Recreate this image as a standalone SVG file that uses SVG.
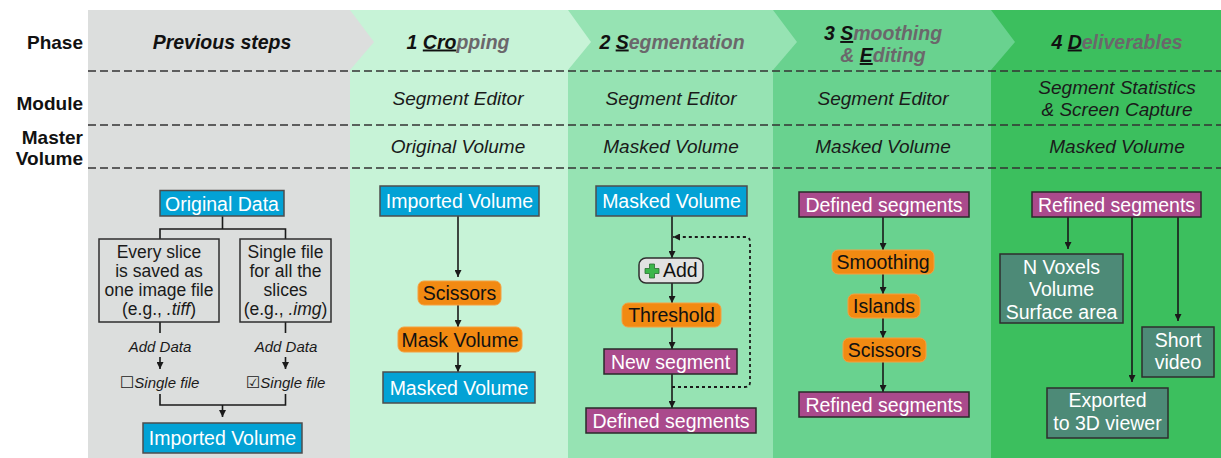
<svg xmlns="http://www.w3.org/2000/svg" width="1221" height="458" viewBox="0 0 1221 458">
  <defs>
    <marker id="arrow" viewBox="0 0 8 8" refX="8" refY="4" markerWidth="7" markerHeight="7" markerUnits="userSpaceOnUse" orient="auto">
      <path d="M0,0 L8,4 L0,8 z" fill="#1a1a1a"/>
    </marker>
    <style>
      text { font-family: "Liberation Sans", Arial, sans-serif; }
      .rowlab { font-size: 19px; font-weight: bold; fill: #111; text-anchor: end; }
      .phase { font-size: 19.5px; font-weight: bold; font-style: italic; fill: #6b676b; text-anchor: middle; }
      .k { fill: #111; }
      .u { fill: #111; text-decoration: underline; }
      .cell { font-size: 19px; font-style: italic; fill: #1a1a1a; text-anchor: middle; }
      .lbl { font-size: 19.5px; text-anchor: middle; }
      .w { fill: #ffffff; }
      .b { fill: #111; }
      .small { font-size: 17.5px; fill: #1a1a1a; text-anchor: middle; }
      .note { font-size: 15px; font-style: italic; fill: #1a1a1a; }
      .box { font-family: "DejaVu Sans", sans-serif; font-style: normal; font-size: 16px; }
      .blue { fill: #03a2d5; stroke: #4d4d4d; stroke-width: 1.5; }
      .orange { fill: #f28a12; stroke: #f5a040; stroke-width: 1; }
      .purple { fill: #aa4a8c; stroke: #2a2a2a; stroke-width: 1.5; }
      .teal { fill: #4d8a77; stroke: #2e2e2e; stroke-width: 1.5; }
      .plain { fill: none; stroke: #2e2e2e; stroke-width: 1.5; }
      .dash { stroke: #333; stroke-width: 1.5; stroke-dasharray: 8 4; fill: none; }
      .wire { fill: none; stroke: #1a1a1a; stroke-width: 1.6; }
      .arr { fill: none; stroke: #1a1a1a; stroke-width: 1.6; marker-end: url(#arrow); }
      .dot { fill: none; stroke: #1a1a1a; stroke-width: 1.8; stroke-dasharray: 3 3; marker-end: url(#arrow); }
    </style>
  </defs>

  <rect width="1221" height="458" fill="#ffffff"/>

  <!-- phase columns -->
  <g id="columns">
    <rect x="88" y="10" width="262" height="448" fill="#dcdedd"/>
    <rect x="350" y="10" width="218" height="448" fill="#c7f3d7"/>
    <rect x="568" y="10" width="205" height="448" fill="#96e3b3"/>
    <rect x="773" y="10" width="218" height="448" fill="#69d28f"/>
    <rect x="991" y="10" width="230" height="448" fill="#3cbf5e"/>
    <!-- chevron tips -->
    <polygon points="350,10 374,42 350,70" fill="#dcdedd"/>
    <polygon points="568,10 591,42 568,70" fill="#c7f3d7"/>
    <polygon points="773,10 797,42 773,70" fill="#96e3b3"/>
    <polygon points="991,10 1015,42 991,70" fill="#69d28f"/>
  </g>

  <!-- row separators -->
  <g id="rows">
    <line class="dash" x1="88" y1="71" x2="1221" y2="71"/>
    <line class="dash" x1="88" y1="125" x2="1221" y2="125"/>
    <line class="dash" x1="88" y1="168" x2="1221" y2="168"/>
  </g>

  <!-- row labels -->
  <g id="row-labels">
    <text class="rowlab" x="83" y="49">Phase</text>
    <text class="rowlab" x="83" y="110">Module</text>
    <text class="rowlab" x="83" y="143.5">Master</text>
    <text class="rowlab" x="83" y="165">Volume</text>
  </g>

  <!-- phase headers -->
  <g id="phase-headers">
    <text class="phase" x="222" y="48.5"><tspan class="k">Previous steps</tspan></text>
    <text class="phase" x="458" y="48.5"><tspan class="k">1 </tspan><tspan class="u">Cro</tspan>pping</text>
    <text class="phase" x="672" y="48.5"><tspan class="k">2 </tspan><tspan class="u">S</tspan>egmentation</text>
    <text class="phase" x="883" y="40"><tspan class="k">3 </tspan><tspan class="u">S</tspan>moothing</text>
    <text class="phase" x="883" y="62">&amp; <tspan class="u">E</tspan>diting</text>
    <text class="phase" x="1117" y="48.5"><tspan class="k">4 </tspan><tspan class="u">D</tspan>eliverables</text>
  </g>

  <!-- module / master volume cells -->
  <g id="cells">
    <text class="cell" x="458" y="104.5">Segment Editor</text>
    <text class="cell" x="671" y="104.5">Segment Editor</text>
    <text class="cell" x="883" y="104.5">Segment Editor</text>
    <text class="cell" x="1117" y="93.5">Segment Statistics</text>
    <text class="cell" x="1117" y="115.5">&amp; Screen Capture</text>
    <text class="cell" x="458" y="153">Original Volume</text>
    <text class="cell" x="671" y="153">Masked Volume</text>
    <text class="cell" x="883" y="153">Masked Volume</text>
    <text class="cell" x="1117" y="153">Masked Volume</text>
  </g>

  <!-- connectors -->
  <g id="connectors">
    <!-- previous steps -->
    <path class="wire" d="M222.5,216 V229 M160,239 V229 H285.5 V239"/>
    <path class="wire" d="M160,322 V333 M285.5,322 V333"/>
    <path class="arr" d="M160,357 V369"/>
    <path class="arr" d="M285.5,357 V369"/>
    <path class="wire" d="M160,394 V405 H285.5 V394"/>
    <path class="arr" d="M222.5,405 V417"/>
    <!-- cropping -->
    <path class="arr" d="M458,216 V277"/>
    <path class="arr" d="M458,305 V327"/>
    <path class="arr" d="M458,352 V372"/>
    <!-- segmentation -->
    <path class="arr" d="M672,216 V258"/>
    <path class="arr" d="M672,283 V303"/>
    <path class="arr" d="M672,327 V349"/>
    <path class="arr" d="M672,374 V408"/>
    <path class="dot" d="M672,387 H745 Q750,387 750,382 V242 Q750,237 745,237 H673"/>
    <!-- smoothing & editing -->
    <path class="arr" d="M883,217 V250"/>
    <path class="arr" d="M883,274 V294"/>
    <path class="arr" d="M883,318 V338"/>
    <path class="arr" d="M883,362 V392"/>
    <!-- deliverables -->
    <path class="arr" d="M1068,217 V249"/>
    <path class="arr" d="M1132,217 V382"/>
    <path class="arr" d="M1178,217 V321"/>
  </g>

  <!-- previous steps nodes -->
  <g id="original-data">
    <rect class="blue" x="160" y="190.5" width="124" height="25.5"/>
    <text class="lbl w" x="222" y="210.5">Original Data</text>
  </g>
  <g id="every-slice">
    <rect class="plain" x="99" y="239" width="120" height="83"/>
    <text class="small" x="159" y="257.5">Every slice</text>
    <text class="small" x="159" y="276.5">is saved as</text>
    <text class="small" x="159" y="295.5">one image file</text>
    <text class="small" x="159" y="314.5">(e.g., <tspan font-style="italic">.tiff</tspan>)</text>
  </g>
  <g id="single-file">
    <rect class="plain" x="240" y="239" width="91" height="83"/>
    <text class="small" x="285.5" y="257.5">Single file</text>
    <text class="small" x="285.5" y="276.5">for all the</text>
    <text class="small" x="285.5" y="295.5">slices</text>
    <text class="small" x="285.5" y="314.5">(e.g., <tspan font-style="italic">.img</tspan>)</text>
  </g>
  <g id="add-data-left">
    <text class="note" x="160" y="351.5" text-anchor="middle">Add Data</text>
    <text class="note" x="120" y="388"><tspan class="box">☐</tspan>Single file</text>
  </g>
  <g id="add-data-right">
    <text class="note" x="246" y="388"><tspan class="box">☑</tspan>Single file</text>
    <text class="note" x="286" y="351.5" text-anchor="middle">Add Data</text>
  </g>
  <g id="imported-volume-prev">
    <rect class="blue" x="143" y="423" width="159" height="30"/>
    <text class="lbl w" x="222.5" y="445">Imported Volume</text>
  </g>

  <!-- cropping nodes -->
  <g id="imported-volume">
    <rect class="blue" x="380" y="186" width="159" height="30"/>
    <text class="lbl w" x="459.5" y="208">Imported Volume</text>
  </g>
  <g id="scissors-crop">
    <rect class="orange" x="418" y="281" width="83" height="24" rx="6"/>
    <text class="lbl b" x="459.5" y="300">Scissors</text>
  </g>
  <g id="mask-volume">
    <rect class="orange" x="398" y="327" width="124" height="25" rx="6"/>
    <text class="lbl b" x="460" y="346.5">Mask Volume</text>
  </g>
  <g id="masked-volume-crop">
    <rect class="blue" x="383" y="372" width="152" height="31"/>
    <text class="lbl w" x="459" y="394.5">Masked Volume</text>
  </g>

  <!-- segmentation nodes -->
  <g id="masked-volume-seg">
    <rect class="blue" x="596" y="186" width="151" height="30"/>
    <text class="lbl w" x="671.5" y="208">Masked Volume</text>
  </g>
  <g id="add">
    <rect x="639" y="258" width="64" height="25" rx="7" fill="#e2e2e2" stroke="#2e2e2e" stroke-width="1.5"/>
    <path d="M649.5,264 h5 v4.5 h4.5 v5 h-4.5 v4.5 h-5 v-4.5 h-4.5 v-5 h4.5 z" fill="#3cb64a" stroke="#2a6e30" stroke-width="0.8"/>
    <text class="lbl b" x="663" y="277" style="text-anchor:start">Add</text>
  </g>
  <g id="threshold">
    <rect class="orange" x="622" y="303" width="99" height="24" rx="6"/>
    <text class="lbl b" x="671.5" y="322">Threshold</text>
  </g>
  <g id="new-segment">
    <rect class="purple" x="604" y="349" width="133" height="25"/>
    <text class="lbl w" x="670.5" y="368.5">New segment</text>
  </g>
  <g id="defined-segments-seg">
    <rect class="purple" x="586" y="408" width="170" height="25"/>
    <text class="lbl w" x="671" y="427.5">Defined segments</text>
  </g>

  <!-- smoothing & editing nodes -->
  <g id="defined-segments">
    <rect class="purple" x="799" y="192" width="170" height="25"/>
    <text class="lbl w" x="884" y="211.5">Defined segments</text>
  </g>
  <g id="smoothing">
    <rect class="orange" x="832" y="250" width="102" height="24" rx="6"/>
    <text class="lbl b" x="883" y="269">Smoothing</text>
  </g>
  <g id="islands">
    <rect class="orange" x="848" y="294" width="72" height="24" rx="6"/>
    <text class="lbl b" x="884" y="313">Islands</text>
  </g>
  <g id="scissors-edit">
    <rect class="orange" x="843" y="338" width="83" height="24" rx="6"/>
    <text class="lbl b" x="884.5" y="357">Scissors</text>
  </g>
  <g id="refined-segments-edit">
    <rect class="purple" x="799" y="392" width="170" height="25"/>
    <text class="lbl w" x="884" y="411.5">Refined segments</text>
  </g>

  <!-- deliverables nodes -->
  <g id="refined-segments">
    <rect class="purple" x="1032" y="192" width="169" height="25"/>
    <text class="lbl w" x="1116.5" y="211.5">Refined segments</text>
  </g>
  <g id="statistics">
    <rect class="teal" x="1000" y="254" width="123" height="69"/>
    <text class="lbl w" x="1061.5" y="273.5">N Voxels</text>
    <text class="lbl w" x="1061.5" y="296">Volume</text>
    <text class="lbl w" x="1061.5" y="318.5">Surface area</text>
  </g>
  <g id="short-video">
    <rect class="teal" x="1142" y="327" width="72" height="50"/>
    <text class="lbl w" x="1178" y="346.5">Short</text>
    <text class="lbl w" x="1178" y="368.5">video</text>
  </g>
  <g id="exported">
    <rect class="teal" x="1047" y="388" width="121" height="50"/>
    <text class="lbl w" x="1107.5" y="407">Exported</text>
    <text class="lbl w" x="1107.5" y="430">to 3D viewer</text>
  </g>
</svg>
